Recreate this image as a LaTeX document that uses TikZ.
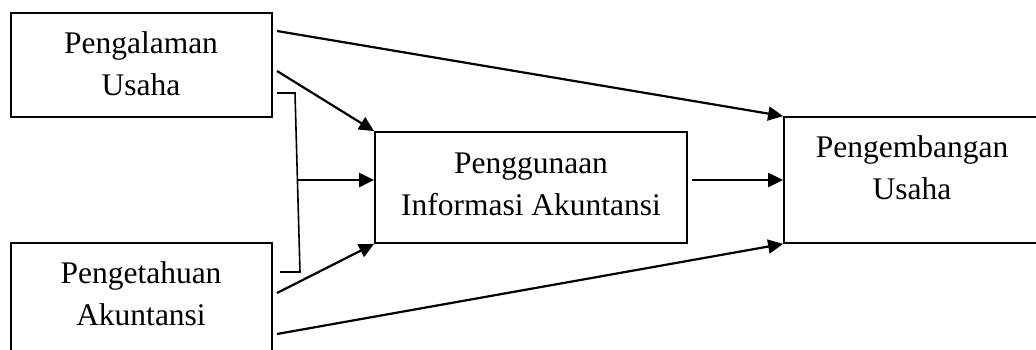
\documentclass[tikz,border=0pt]{standalone}
\usepackage{fontspec}
\setmainfont{Liberation Serif}
\usetikzlibrary{arrows.meta}
\tikzset{
  box/.style={draw, line width=1.8pt, inner sep=0pt, rectangle},
  lbl/.style={align=center, inner sep=0pt, anchor=base, font=\fontsize{31.5}{42}\selectfont},
  conn/.style={line width=2.2pt, -{Triangle[length=15pt,width=14pt]}},
  brk/.style={line width=1.6pt}
}
\begin{document}
\begin{tikzpicture}[x=1pt,y=-1pt]
\useasboundingbox (0,0) rectangle (1036,349);
\clip (0,0) rectangle (1036,349);
% boxes
\node[box, minimum width=261pt, minimum height=104pt] (pu) at (141.5,65) {};
\node[box, minimum width=261pt, minimum height=157pt] (pa) at (141.5,321.5) {};
\node[box, minimum width=312pt, minimum height=111pt] (ia) at (531,187.5) {};
\node[box, minimum width=316pt, minimum height=126pt] (pg) at (942,180) {};
% labels (anchor at baseline of last line)
\node[lbl] (tpu) at (141,95) {Pengalaman\\Usaha};
\node[lbl] (tpa) at (141,325) {Pengetahuan\\Akuntansi};
\node[lbl] (tia) at (531,215) {Penggunaan\\Informasi Akuntansi};
\node[lbl] (tpg) at (912,199) {Pengembangan\\Usaha};
% connector end points
\coordinate (a1) at (277,31);
\coordinate (a2) at (277,71);
\coordinate (a3) at (277,293);
\coordinate (a4) at (277,334);
\coordinate (bt1) at (277,93);
\coordinate (bt2) at (295,93);
\coordinate (bb2) at (300,272);
\coordinate (bb1) at (280,272);
\coordinate (bm) at (297,180);
\coordinate (im) at (692,180);
% bracket
\draw[brk] (bt1) -- (bt2) -- (bb2) -- (bb1);
% arrows
\draw[conn] (a1) -- (pg.north west);
\draw[conn] (a2) -- (ia.north west);
\draw[conn] (bm) -- (ia.west |- bm);
\draw[conn] (a3) -- (ia.south west);
\draw[conn] (a4) -- (pg.south west);
\draw[conn] (im) -- (pg.west |- im);
\end{tikzpicture}
\end{document}
